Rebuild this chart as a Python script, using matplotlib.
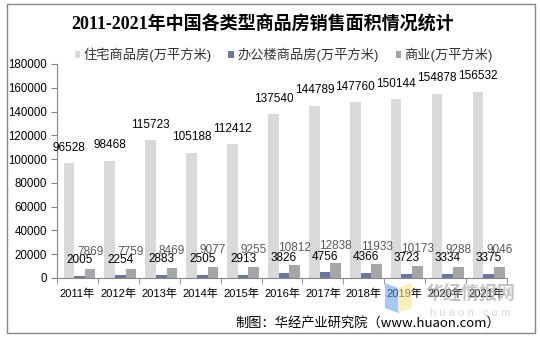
import numpy as np
import matplotlib.pyplot as plt
from matplotlib.patches import Rectangle, Polygon

plt.rcParams['font.family'] = ['Liberation Sans', 'Noto Sans CJK SC', 'DejaVu Sans']

years = ['2011年', '2012年', '2013年', '2014年', '2015年', '2016年',
         '2017年', '2018年', '2019年', '2020年', '2021年']
residential = [96528, 98468, 115723, 105188, 112412, 137540,
               144789, 147760, 150144, 154878, 156532]
office = [2005, 2254, 2883, 2505, 2913, 3826, 4756, 4366, 3723, 3334, 3375]
commercial = [7869, 7759, 8469, 9077, 9255, 10812, 12838, 11933, 10173, 9288, 9046]

series_names = ['住宅商品房(万平方米)', '办公楼商品房(万平方米)', '商业(万平方米)']
colors = ['#d9d9d9', '#6b77a0', '#a6a6a6']
label_colors = ['black', 'black', '#595959']

fig = plt.figure(figsize=(5.4, 3.4), dpi=100)
ax = fig.add_axes([57 / 540, 62 / 340, 450 / 540, 214 / 340])

x = np.arange(len(years))
w = 0.26
for i, (vals, c, lc) in enumerate(zip([residential, office, commercial], colors, label_colors)):
    xs = x + (i - 1) * w + 0.05
    ax.bar(xs, vals, width=w, color=c, label=series_names[i], zorder=2)
    for xi, v in zip(xs, vals):
        ax.annotate(str(v), (xi, v), xytext=(0, 7 if i < 2 else 8),
                    textcoords='offset points', ha='center', va='bottom',
                    fontsize=8.5, color=lc, zorder=3)

ax.set_xlim(-0.5, len(years) - 0.5)
ax.set_ylim(0, 180000)
ax.set_yticks(np.arange(0, 180001, 20000))
ax.tick_params(axis='y', labelsize=8.3, length=4, color='#868686', pad=3)
ax.set_xticks(x)
ax.set_xticklabels(years, fontsize=8)
ax.set_xticks(np.arange(-0.5, len(years)), minor=True)
ax.tick_params(axis='x', which='major', length=0, pad=8)
ax.tick_params(axis='x', which='minor', length=4, color='#868686')
for s in ['top', 'right']:
    ax.spines[s].set_visible(False)
for s in ['left', 'bottom']:
    ax.spines[s].set_color('#868686')
    ax.spines[s].set_linewidth(0.8)

fig.text(0.487, 0.928, '2011-2021年中国各类型商品房销售面积情况统计',
         ha='center', va='center', fontsize=13, fontweight='bold',
         family=['Liberation Serif', 'Noto Sans CJK SC'])

leg = fig.legend(loc='center', bbox_to_anchor=(0.525, 0.838), ncol=3,
                 frameon=False, fontsize=9.5, handlelength=0.45, handleheight=0.45,
                 handletextpad=0.2, columnspacing=1.3)
for t in leg.get_texts():
    t.set_color('#333333')

# watermark logo
fig.patches.append(Polygon([[385, 57], [398, 52], [398, 27], [385, 32]], closed=True,
                           transform=None, facecolor='#5b9bf5', alpha=0.55, zorder=5))
fig.patches.append(Polygon([[398, 52], [412, 57], [412, 32], [398, 27]], closed=True,
                           transform=None, facecolor='#fbe38a', alpha=0.6, zorder=5))
fig.text(470 / 540, 1 - 295 / 340, '华经情报网', ha='center', va='center', fontsize=13,
         fontweight='bold', color='#9e9e9e', alpha=0.6, zorder=6)
fig.text(470 / 540, 1 - 313 / 340, 'h u a o n . c o m', ha='center', va='center',
         fontsize=8, color='#bdbdbd', alpha=0.6, zorder=6)

fig.text(500 / 540, 1 - 323 / 340, '制图：华经产业研究院（www.huaon.com）',
         ha='right', va='center', fontsize=9.5,
         family=['Noto Sans CJK SC', 'Liberation Sans'])

fig.patches.append(Rectangle((7 / 540, 7 / 340), 528 / 540, 329 / 340,
                             transform=fig.transFigure, fill=False,
                             edgecolor='#868686', linewidth=1))

fig.savefig('out.png', dpi=100)
